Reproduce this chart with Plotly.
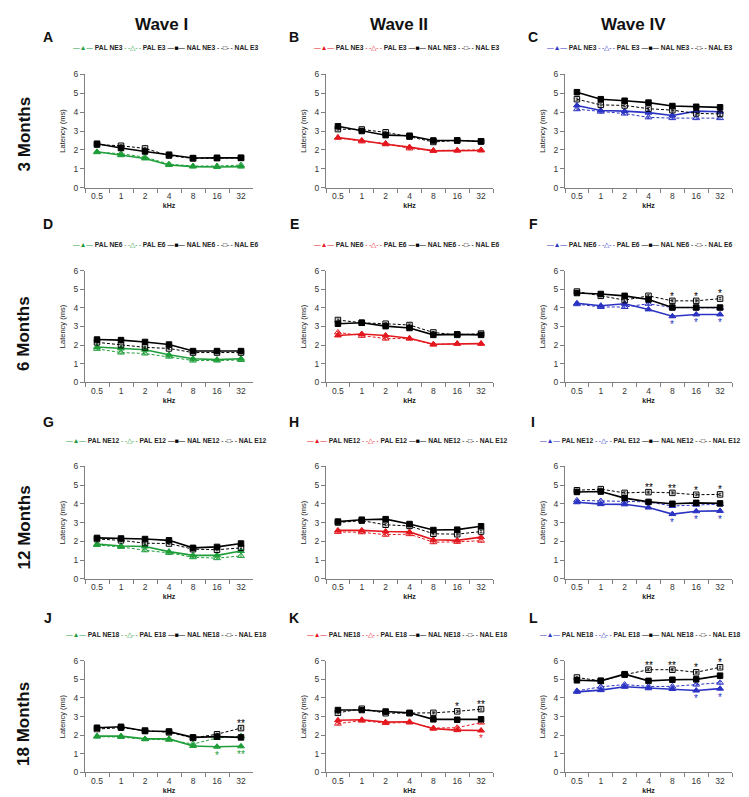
import plotly.graph_objects as go

# ---------------- data ----------------
khz = ["0.5", "1", "2", "4", "8", "16", "32"]
waves = ["Wave I", "Wave II", "Wave IV"]
ages = ["3 Months", "6 Months", "12 Months", "18 Months"]
age_tags = ["3", "6", "12", "18"]
panel_letters = [["A", "B", "C"], ["D", "E", "F"], ["G", "H", "I"], ["J", "K", "L"]]

# Wave I
w1_3_pal_ne = [1.90, 1.72, 1.55, 1.20, 1.12, 1.10, 1.12]
w1_3_pal_e = [1.88, 1.80, 1.62, 1.25, 1.15, 1.15, 1.20]
w1_3_nal_ne = [2.33, 2.10, 1.92, 1.75, 1.57, 1.58, 1.58]
w1_3_nal_e = [2.28, 2.22, 2.08, 1.70, 1.55, 1.57, 1.58]

w1_6_pal_ne = [1.90, 1.82, 1.75, 1.48, 1.27, 1.22, 1.27]
w1_6_pal_e = [1.80, 1.60, 1.55, 1.38, 1.17, 1.17, 1.20]
w1_6_nal_ne = [2.30, 2.27, 2.17, 2.03, 1.68, 1.68, 1.68]
w1_6_nal_e = [2.15, 2.00, 1.88, 1.82, 1.60, 1.60, 1.60]

w1_12_pal_ne = [1.85, 1.75, 1.72, 1.45, 1.25, 1.25, 1.48]
w1_12_pal_e = [1.80, 1.70, 1.52, 1.38, 1.15, 1.10, 1.22]
w1_12_nal_ne = [2.18, 2.15, 2.12, 2.05, 1.65, 1.70, 1.88]
w1_12_nal_e = [2.12, 2.05, 1.90, 1.88, 1.58, 1.55, 1.65]

w1_18_pal_ne = [1.95, 1.95, 1.80, 1.80, 1.42, 1.38, 1.40]
w1_18_pal_e = [1.92, 1.90, 1.78, 1.75, 1.52, 1.85, 1.95]
w1_18_nal_ne = [2.40, 2.45, 2.22, 2.20, 1.88, 1.92, 1.88]
w1_18_nal_e = [2.33, 2.40, 2.25, 2.15, 1.85, 2.05, 2.38]

# Wave II
w2_3_pal_ne = [2.65, 2.50, 2.30, 2.15, 1.95, 1.97, 1.97]
w2_3_pal_e = [2.65, 2.45, 2.35, 2.08, 1.97, 1.97, 2.00]
w2_3_nal_ne = [3.25, 3.00, 2.78, 2.75, 2.50, 2.50, 2.45]
w2_3_nal_e = [3.10, 3.08, 2.93, 2.70, 2.42, 2.50, 2.45]

w2_6_pal_ne = [2.52, 2.60, 2.52, 2.37, 2.05, 2.08, 2.08]
w2_6_pal_e = [2.68, 2.50, 2.35, 2.35, 2.03, 2.08, 2.08]
w2_6_nal_ne = [3.15, 3.20, 3.02, 2.92, 2.55, 2.58, 2.55]
w2_6_nal_e = [3.35, 3.20, 3.15, 3.08, 2.68, 2.55, 2.62]

w2_12_pal_ne = [2.58, 2.58, 2.52, 2.50, 2.08, 2.05, 2.22]
w2_12_pal_e = [2.50, 2.48, 2.35, 2.38, 1.95, 1.97, 2.03]
w2_12_nal_ne = [3.05, 3.15, 3.18, 2.92, 2.60, 2.62, 2.80]
w2_12_nal_e = [3.00, 3.10, 2.88, 2.82, 2.40, 2.38, 2.52]

w2_18_pal_ne = [2.80, 2.83, 2.70, 2.72, 2.35, 2.27, 2.25]
w2_18_pal_e = [2.62, 2.78, 2.65, 2.68, 2.38, 2.40, 2.68]
w2_18_nal_ne = [3.35, 3.35, 3.27, 3.20, 2.85, 2.83, 2.85]
w2_18_nal_e = [3.20, 3.42, 3.18, 3.18, 3.20, 3.28, 3.40]

# Wave IV
w4_3_pal_ne = [4.35, 4.08, 4.05, 3.97, 3.82, 4.05, 4.02]
w4_3_pal_e = [4.15, 4.02, 3.92, 3.72, 3.68, 3.68, 3.68]
w4_3_nal_ne = [5.05, 4.68, 4.60, 4.50, 4.32, 4.28, 4.25]
w4_3_nal_e = [4.68, 4.38, 4.35, 4.18, 4.10, 3.93, 3.90]

w4_6_pal_ne = [4.25, 4.12, 4.22, 3.92, 3.55, 3.65, 3.65]
w4_6_pal_e = [4.20, 4.05, 4.05, 4.22, 4.02, 4.00, 4.00]
w4_6_nal_ne = [4.80, 4.75, 4.65, 4.45, 4.02, 4.02, 4.02]
w4_6_nal_e = [4.88, 4.65, 4.42, 4.65, 4.38, 4.38, 4.50]

w4_12_pal_ne = [4.08, 3.98, 3.97, 3.80, 3.45, 3.60, 3.62]
w4_12_pal_e = [4.18, 4.15, 4.12, 4.10, 3.88, 3.95, 3.98]
w4_12_nal_ne = [4.63, 4.65, 4.30, 4.10, 4.00, 4.05, 4.02]
w4_12_nal_e = [4.72, 4.78, 4.58, 4.62, 4.58, 4.48, 4.50]

w4_18_pal_ne = [4.33, 4.42, 4.60, 4.52, 4.48, 4.40, 4.50]
w4_18_pal_e = [4.38, 4.60, 4.72, 4.62, 4.62, 4.72, 4.82]
w4_18_nal_ne = [4.95, 4.92, 5.28, 4.92, 4.98, 5.00, 5.20]
w4_18_nal_e = [5.10, 4.92, 5.25, 5.52, 5.52, 5.38, 5.65]

# significance marks: (panel, series, frequency index, label)
sig_marks = [
    ("F", "NAL_E", 4, "*"), ("F", "NAL_E", 5, "*"), ("F", "NAL_E", 6, "*"),
    ("F", "PAL_NE", 4, "*"), ("F", "PAL_NE", 5, "*"), ("F", "PAL_NE", 6, "*"),
    ("I", "NAL_E", 3, "**"), ("I", "NAL_E", 4, "**"), ("I", "NAL_E", 5, "*"), ("I", "NAL_E", 6, "*"),
    ("I", "PAL_NE", 4, "*"), ("I", "PAL_NE", 5, "*"), ("I", "PAL_NE", 6, "*"),
    ("J", "NAL_E", 6, "**"), ("J", "PAL_NE", 5, "*"), ("J", "PAL_NE", 6, "**"),
    ("K", "NAL_E", 5, "*"), ("K", "NAL_E", 6, "**"), ("K", "PAL_NE", 6, "*"),
    ("L", "NAL_E", 3, "**"), ("L", "NAL_E", 4, "**"), ("L", "NAL_E", 5, "*"), ("L", "NAL_E", 6, "*"),
    ("L", "PAL_NE", 5, "*"), ("L", "PAL_NE", 6, "*"),
]

# ---------------- assemble ----------------
panel_data = {
    (0, 0): (w1_3_pal_ne, w1_3_pal_e, w1_3_nal_ne, w1_3_nal_e),
    (1, 0): (w1_6_pal_ne, w1_6_pal_e, w1_6_nal_ne, w1_6_nal_e),
    (2, 0): (w1_12_pal_ne, w1_12_pal_e, w1_12_nal_ne, w1_12_nal_e),
    (3, 0): (w1_18_pal_ne, w1_18_pal_e, w1_18_nal_ne, w1_18_nal_e),
    (0, 1): (w2_3_pal_ne, w2_3_pal_e, w2_3_nal_ne, w2_3_nal_e),
    (1, 1): (w2_6_pal_ne, w2_6_pal_e, w2_6_nal_ne, w2_6_nal_e),
    (2, 1): (w2_12_pal_ne, w2_12_pal_e, w2_12_nal_ne, w2_12_nal_e),
    (3, 1): (w2_18_pal_ne, w2_18_pal_e, w2_18_nal_ne, w2_18_nal_e),
    (0, 2): (w4_3_pal_ne, w4_3_pal_e, w4_3_nal_ne, w4_3_nal_e),
    (1, 2): (w4_6_pal_ne, w4_6_pal_e, w4_6_nal_ne, w4_6_nal_e),
    (2, 2): (w4_12_pal_ne, w4_12_pal_e, w4_12_nal_ne, w4_12_nal_e),
    (3, 2): (w4_18_pal_ne, w4_18_pal_e, w4_18_nal_ne, w4_18_nal_e),
}
series_keys = ["PAL_NE", "PAL_E", "NAL_NE", "NAL_E"]

W, H = 749, 797
wave_colors = ["#1f9e3a", "#e3191f", "#2b33c2"]
col_px = [(77, 245), (318, 485), (557, 724)]
row_px = [(62, 177), (261, 374), (459, 573), (656, 769)]
legend_y_px = [35, 234, 433, 629]
legend_x_px = [158, 399, 632]
letter_y_px = [24, 214, 414, 613]
letter_x_px = [40, 286, 525]
row_label_y_px = [123, 325, 521, 720]
FONT = "Liberation Sans, Arial, sans-serif"

def px_x(x):
    return x / W

def px_y(y):
    return 1 - y / H

fig = go.Figure()
annotations = []
layout = {}

def sym(s, colr):
    return f"<span style='color:{colr}'>{s}</span>"

for (r, c), vals in panel_data.items():
    idx = r * 3 + c + 1
    xa = "x" if idx == 1 else f"x{idx}"
    ya = "y" if idx == 1 else f"y{idx}"
    col = wave_colors[c]
    styles = {
        "PAL_NE": dict(color=col, dash="solid", symbol="triangle-up", width=1.6),
        "PAL_E": dict(color=col, dash="3px,2px", symbol="triangle-up-open", width=1.0),
        "NAL_NE": dict(color="#000000", dash="solid", symbol="square", width=1.6),
        "NAL_E": dict(color="#000000", dash="3px,2px", symbol="square-open", width=1.0),
    }
    for key, v in zip(series_keys, vals):
        st = styles[key]
        fig.add_trace(go.Scatter(
            x=khz, y=v, xaxis=xa, yaxis=ya, mode="lines+markers",
            line=dict(color=st["color"], width=st["width"], dash=st["dash"]),
            marker=dict(symbol=st["symbol"], size=6 if "PAL" in key else 5.5,
                        color=st["color"], line=dict(color=st["color"], width=1)),
            error_y=dict(type="constant", value=0.06, color=st["color"],
                         thickness=0.7, width=1.5),
            showlegend=False, hoverinfo="skip",
        ))
    x0, x1 = col_px[c]
    y0, y1 = row_px[r]
    axis_common = dict(showline=True, linecolor="#808080", linewidth=1,
                       ticks="outside", ticklen=4, tickcolor="#808080",
                       showgrid=False, zeroline=False,
                       tickfont=dict(family=FONT, size=8.5, color="#333333"))
    layout["xaxis" if idx == 1 else f"xaxis{idx}"] = dict(
        axis_common, domain=[px_x(x0), px_x(x1)], anchor=ya,
        type="category", range=[-0.5, 6.5], tickson="boundaries",
        title=dict(text="<b>kHz</b>", font=dict(family=FONT, size=7, color="#222222"),
                   standoff=3),
    )
    layout["yaxis" if idx == 1 else f"yaxis{idx}"] = dict(
        axis_common, domain=[px_y(y1), px_y(y0)], anchor=xa,
        range=[0, 6], tickvals=[0, 1, 2, 3, 4, 5, 6],
        title=dict(text="Latency (ms)", font=dict(family=FONT, size=7.5, color="#222222"),
                   standoff=6),
    )
    # legend drawn as text
    tag = age_tags[r]
    dash_line = "-\u2009-"
    leg = (sym("\u2014\u25B2\u2014", col) + "\u00a0<b>PAL NE" + tag + "</b>\u00a0"
           + sym(dash_line + "\u25B3" + dash_line, col) + "\u00a0<b>PAL E" + tag + "</b>\u00a0"
           + sym("\u2014\u25A0\u2014", "#000") + "\u00a0<b>NAL NE" + tag + "</b>\u00a0"
           + sym(dash_line + "\u25A1" + dash_line, "#000") + "\u00a0<b>NAL E" + tag + "</b>")
    annotations.append(dict(
        text=leg, xref="paper", yref="paper", x=px_x(legend_x_px[c]), y=px_y(legend_y_px[r]),
        xanchor="center", yanchor="middle", showarrow=False,
        font=dict(family=FONT, size=6.7, color="#222222"),
    ))
    annotations.append(dict(
        text="<b>" + panel_letters[r][c] + "</b>", xref="paper", yref="paper",
        x=px_x(letter_x_px[c]), y=px_y(letter_y_px[r]), xanchor="center", yanchor="middle",
        showarrow=False, font=dict(family=FONT, size=14, color="#111111"),
    ))

# significance asterisks anchored to data values (x given as category index)
letter_pos = {panel_letters[r][c]: (r, c) for r in range(4) for c in range(3)}
for panel, key, k, label in sig_marks:
    r, c = letter_pos[panel]
    idx = r * 3 + c + 1
    v = panel_data[(r, c)][series_keys.index(key)][k]
    above = key.startswith("NAL")
    annotations.append(dict(
        text=label, x=k, y=v + (0.25 if above else -0.45),
        xref="x" if idx == 1 else f"x{idx}", yref="y" if idx == 1 else f"y{idx}",
        xanchor="center", yanchor="middle", showarrow=False,
        font=dict(family=FONT, size=10, color="#000000" if above else wave_colors[c]),
    ))

# column headers
for c, name in enumerate(waves):
    annotations.append(dict(
        text="<b>" + name + "</b>", xref="paper", yref="paper",
        x=px_x([153, 391, 625][c]), y=px_y(12), xanchor="center", yanchor="middle",
        showarrow=False, font=dict(family=FONT, size=17, color="#111111"),
    ))

# row headers
for r, name in enumerate(ages):
    annotations.append(dict(
        text="<b>" + name + "</b>", xref="paper", yref="paper",
        x=px_x(16), y=px_y(row_label_y_px[r]), xanchor="center", yanchor="middle",
        textangle=-90, showarrow=False, font=dict(family=FONT, size=17, color="#111111"),
    ))

fig.update_layout(
    width=W, height=H, margin=dict(l=0, r=0, t=0, b=0),
    paper_bgcolor="white", plot_bgcolor="white",
    annotations=annotations, showlegend=False, **layout,
)

fig.write_html("out.html")
